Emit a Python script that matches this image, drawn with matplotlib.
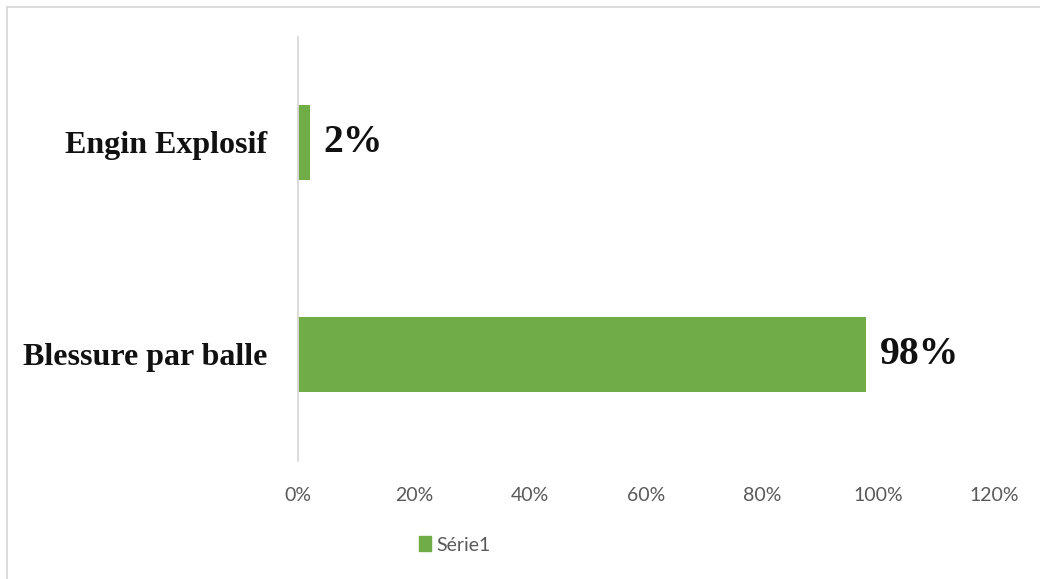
import matplotlib
matplotlib.use("Agg")
import matplotlib.pyplot as plt
from matplotlib.lines import Line2D
from matplotlib.patches import Patch

categories = ["Blessure par balle", "Engin Explosif"]
values = [98, 2]
value_labels = ["98%", "2%"]
xticks = [0, 20, 40, 60, 80, 100, 120]
green = "#70ad47"

W, H = 1040, 579
fig = plt.figure(figsize=(W / 100, H / 100), dpi=100)
ax = fig.add_axes([298 / W, 1 - 460.5 / H, 696 / W, 424 / H])

pos = range(len(categories))
ax.barh(pos, values, height=0.354, color=green)
ax.set_xlim(0, 120)
ax.set_ylim(-0.5, len(categories) - 0.5)

ax.set_yticks(list(pos))
ax.set_yticklabels(categories, family="Liberation Serif", fontweight="bold",
                   fontsize=23, color="#111111")
ax.set_xticks(xticks)
ax.set_xticklabels([f"{t}%" for t in xticks], family="Lato", fontsize=14,
                   color="#595959")
ax.tick_params(axis="y", length=0, pad=22)
ax.tick_params(axis="x", length=0, pad=19)

for s in ["top", "right", "bottom"]:
    ax.spines[s].set_visible(False)
ax.spines["left"].set_color("#d9d9d9")
ax.spines["left"].set_linewidth(1.3)

for i, (v, lab) in enumerate(zip(values, value_labels)):
    ax.annotate(lab, (v, i), xytext=(10, 0), textcoords="offset points",
                ha="left", va="center", family="Liberation Serif",
                fontweight="bold", fontsize=28.5, color="#111111")

fig.legend(handles=[Patch(color=green, label="Série1")],
           loc="center", bbox_to_anchor=(455 / W, 1 - 545 / H), frameon=False,
           prop={"family": "Lato", "size": 14}, labelcolor="#595959",
           handlelength=0.6, handleheight=0.8, handletextpad=0.3)

# chart area border (top and left visible)
fig.add_artist(Line2D([7 / W, 1], [1 - 7 / H, 1 - 7 / H], color="#d9d9d9", lw=1.3))
fig.add_artist(Line2D([7 / W, 7 / W], [0, 1 - 7 / H], color="#d9d9d9", lw=1.3))

fig.savefig("out.png", dpi=100)
